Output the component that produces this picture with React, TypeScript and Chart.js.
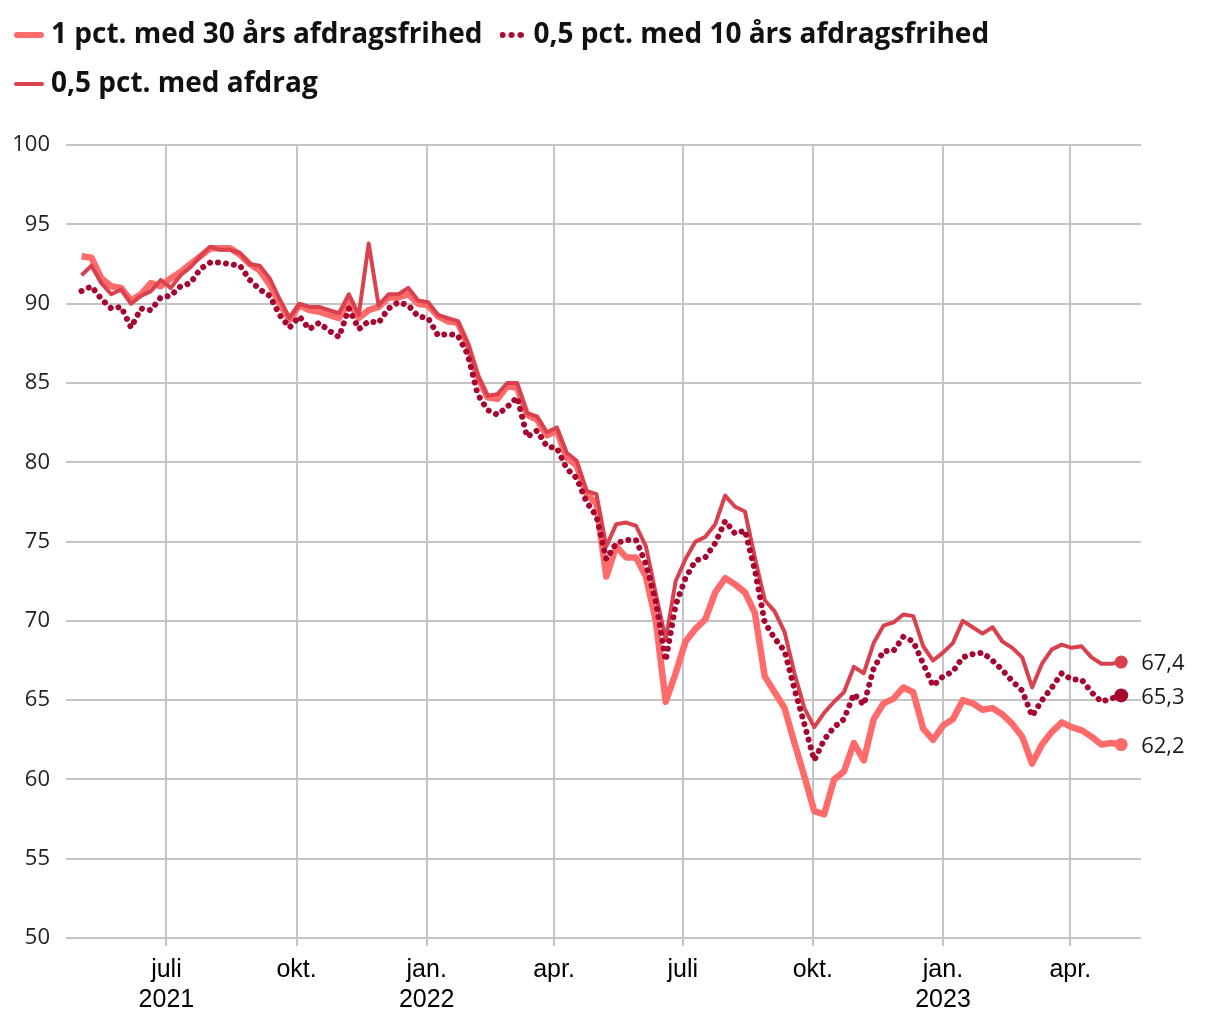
import React, { useEffect, useRef } from 'react';
import { Chart, registerables } from 'chart.js';

Chart.register(...registerables);

// ---- data ----
const seriesNames = [
  '1 pct. med 30 års afdragsfrihed',
  '0,5 pct. med 10 års afdragsfrihed',
  '0,5 pct. med afdrag',
];
const firstDate = '2021-05-02'; // weekly observations
const stepDays = 7;
const axisMinDate = '2021-04-21';
const axisMaxDate = '2023-05-21';
const tickDates = ['2021-07-01', '2021-10-01', '2022-01-01', '2022-04-01', '2022-07-01', '2022-10-01', '2023-01-01', '2023-04-01'];
const tickLabels: string[][] = [['juli', '2021'], ['okt.'], ['jan.', '2022'], ['apr.'], ['juli'], ['okt.'], ['jan.', '2023'], ['apr.']];

const pct1Afdragsfri30 = [
  93.0, 92.9, 91.6, 91.1, 91.0, 90.2, 90.6, 91.3, 91.1, 91.6,
  92.0, 92.5, 93.0, 93.5, 93.5, 93.5, 93.1, 92.5, 92.1, 91.2,
  90.0, 89.0, 89.9, 89.6, 89.5, 89.3, 89.1, 90.1, 89.1, 89.6,
  89.8, 90.4, 90.4, 90.6, 90.0, 89.9, 89.2, 88.9, 88.8, 87.4,
  85.4, 84.1, 84.0, 84.8, 84.7, 83.0, 82.7, 81.7, 82.0, 80.3,
  79.8, 78.0, 77.4, 72.8, 74.7, 74.0, 74.0, 72.8, 70.0, 64.9,
  66.7, 68.7, 69.5, 70.1, 71.8, 72.7, 72.3, 71.8, 70.5, 66.5,
  65.5, 64.5, 62.3, 60.2, 58.0, 57.8, 60.0, 60.5, 62.3, 61.2,
  63.8, 64.8, 65.1, 65.8, 65.5, 63.2, 62.5, 63.4, 63.8, 65.0,
  64.8, 64.4, 64.5, 64.1, 63.5, 62.7, 61.0, 62.2, 63.0, 63.6,
  63.3, 63.1, 62.7, 62.2, 62.3, 62.2,
];
const pct05Afdragsfri10 = [
  90.8, 91.1, 90.3, 89.7, 89.8, 88.5, 89.7, 89.6, 90.4, 90.5,
  91.1, 91.3, 92.2, 92.6, 92.6, 92.5, 92.4, 91.5, 90.9, 90.5,
  89.3, 88.5, 89.2, 88.4, 88.8, 88.3, 87.9, 89.7, 88.4, 88.9,
  88.8, 89.7, 90.1, 89.9, 89.2, 89.1, 88.0, 88.1, 88.0, 86.8,
  84.3, 83.3, 83.0, 83.5, 84.1, 81.6, 82.0, 81.0, 80.9, 79.6,
  79.0, 77.5, 76.6, 73.9, 74.9, 75.1, 75.1, 73.6, 71.2, 67.5,
  71.0, 72.7, 73.8, 74.0, 74.9, 76.3, 75.5, 75.7, 73.2, 69.9,
  68.9, 68.1, 65.7, 63.5, 61.2, 62.5, 63.3, 63.8, 65.4, 64.7,
  67.0, 68.1, 68.1, 69.0, 68.7, 67.3, 65.9, 66.5, 66.8, 67.7,
  67.9, 68.0, 67.5, 66.9, 66.2, 65.6, 64.0, 65.0, 65.8, 66.7,
  66.3, 66.3, 65.5, 64.9, 65.1, 65.3,
];
const pct05MedAfdrag = [
  91.8, 92.4, 91.3, 90.6, 90.9, 90.0, 90.5, 90.8, 91.5, 91.0,
  91.8, 92.3, 93.0, 93.6, 93.4, 93.4, 93.2, 92.5, 92.4, 91.6,
  90.3, 89.1, 90.0, 89.8, 89.8, 89.6, 89.4, 90.6, 89.3, 93.8,
  89.9, 90.6, 90.6, 91.0, 90.2, 90.1, 89.3, 89.1, 88.9, 87.5,
  85.5, 84.2, 84.3, 85.0, 85.0, 83.1, 82.9, 81.9, 82.2, 80.6,
  80.1, 78.2, 78.0, 74.7, 76.1, 76.2, 76.0, 74.7, 71.7, 68.8,
  72.5, 73.9, 75.0, 75.3, 76.1, 77.9, 77.2, 76.9, 74.0, 71.3,
  70.6, 69.3, 66.7, 64.5, 63.3, 64.2, 64.9, 65.5, 67.1, 66.7,
  68.6, 69.7, 69.9, 70.4, 70.3, 68.4, 67.5, 68.0, 68.6, 70.0,
  69.6, 69.2, 69.6, 68.7, 68.3, 67.7, 65.8, 67.3, 68.2, 68.5,
  68.3, 68.4, 67.7, 67.3, 67.3, 67.4,
];

const colors = ['#ff6b6b', '#a6062f', '#d8414d'];
const gridColor = '#c4c4c4';

// ---- helpers ----
const dayNum = (s: string) => (Date.parse(s + 'T00:00:00Z') - Date.parse('2021-01-01T00:00:00Z')) / 86400000;

function toPoints(values: number[]) {
  const start = dayNum(firstDate);
  return values.map((y, i) => ({ x: start + i * stepDays, y }));
}

function makeSwatch(color: string, kind: 'line' | 'dots', lineWidth: number) {
  const c = document.createElement('canvas');
  const g = c.getContext('2d')!;
  if (kind === 'line') {
    c.width = 30;
    c.height = 8;
    g.strokeStyle = color;
    g.lineWidth = lineWidth;
    g.lineCap = 'round';
    g.beginPath();
    g.moveTo(lineWidth / 2, 4);
    g.lineTo(30 - lineWidth / 2, 4);
    g.stroke();
  } else {
    c.width = 24;
    c.height = 8;
    g.fillStyle = color;
    for (let k = 0; k < 3; k++) {
      g.beginPath();
      g.arc(3 + k * 9, 4, 3, 0, Math.PI * 2);
      g.fill();
    }
  }
  return c;
}

const endLabels = {
  id: 'endLabels',
  afterDatasetsDraw(chart: any) {
    const ctx = chart.ctx;
    ctx.save();
    ctx.font = '22px "Open Sans"';
    ctx.fillStyle = '#1a1a1a';
    ctx.textAlign = 'left';
    ctx.textBaseline = 'middle';
    chart.data.datasets.forEach((ds: any, i: number) => {
      const meta = chart.getDatasetMeta(i);
      const pt = meta.data[meta.data.length - 1];
      const v = ds.data[ds.data.length - 1].y as number;
      ctx.fillText(v.toFixed(1).replace('.', ','), pt.x + 20, pt.y + 2);
    });
    ctx.restore();
  },
};

export default function App() {
  const ref = useRef<HTMLCanvasElement>(null);

  useEffect(() => {
    document.body.style.margin = '0';
    const canvas = ref.current!;
    const swatches = [
      makeSwatch(colors[0], 'line', 6),
      makeSwatch(colors[1], 'dots', 0),
      makeSwatch(colors[2], 'line', 4),
    ];
    const series = [pct1Afdragsfri30, pct05Afdragsfri10, pct05MedAfdrag];
    const widths = [6.5, 6, 4];
    const orders = [3, 1, 2];
    const endRadius = [6.5, 7, 6.5];
    const tickDays = tickDates.map(dayNum);

    const datasets = series.map((vals, i) => ({
      label: seriesNames[i],
      data: toPoints(vals),
      borderColor: colors[i],
      backgroundColor: colors[i],
      borderWidth: widths[i],
      borderDash: i === 1 ? [0.01, 8] : [],
      borderCapStyle: i === 1 ? 'round' : 'butt',
      borderJoinStyle: 'round',
      tension: 0,
      fill: false,
      order: orders[i],
      pointRadius: (c: any) => (c.dataIndex === vals.length - 1 ? endRadius[i] : 0),
      pointHoverRadius: 0,
      pointBorderWidth: 0,
      pointBackgroundColor: colors[i],
    }));

    const chart = new Chart(canvas, {
      type: 'line',
      data: { datasets } as any,
      plugins: [endLabels],
      options: {
        animation: false,
        responsive: false,
        events: [],
        layout: { padding: { left: 0, right: 79, top: 0, bottom: 0 } },
        plugins: {
          tooltip: { enabled: false },
          title: {
            display: true,
            text: '',
            font: { size: 1 },
            padding: { top: 0, bottom: 36 },
            weight: 500,
          } as any,
          legend: {
            display: true,
            position: 'top',
            align: 'start',
            labels: {
              usePointStyle: true,
              pointStyleWidth: 16,
              boxHeight: 28,
              padding: 21,
              color: '#111',
              font: { family: '"Open Sans"', size: 28, weight: 'bold' },
              generateLabels: (ch: any) =>
                ch.data.datasets.map((ds: any, i: number) => ({
                  text: ds.label,
                  pointStyle: swatches[i],
                  fillStyle: ds.borderColor,
                  strokeStyle: ds.borderColor,
                  lineWidth: 0,
                  hidden: false,
                  datasetIndex: i,
                  fontColor: '#111',
                })),
            },
          },
        },
        scales: {
          x: {
            type: 'linear',
            min: dayNum(axisMinDate),
            max: dayNum(axisMaxDate),
            afterBuildTicks: (s: any) => {
              s.ticks = tickDays.map((v) => ({ value: v }));
            },
            afterFit: (s: any) => {
              s.height = 82;
            },
            ticks: {
              autoSkip: false,
              maxRotation: 0,
              padding: 9,
              color: '#000',
              font: { family: '"Liberation Sans", Arial, sans-serif', size: 25, lineHeight: 1.2 },
              callback: (_v: any, i: number) => tickLabels[i],
            },
            grid: { color: gridColor, lineWidth: 2, drawTicks: true, tickLength: 8 },
            border: { display: false },
          },
          y: {
            type: 'linear',
            min: 50,
            max: 100,
            afterFit: (s: any) => {
              s.width = 66;
            },
            ticks: {
              stepSize: 5,
              padding: 16,
              color: '#222',
              font: { family: '"Open Sans"', size: 22 },
            },
            grid: { color: gridColor, lineWidth: 2, drawTicks: false },
            border: { display: false },
          },
        },
      } as any,
    });
    return () => chart.destroy();
  }, []);

  return <canvas ref={ref} width={1220} height={1020} style={{ display: 'block', width: 1220, height: 1020 }} />;
}
